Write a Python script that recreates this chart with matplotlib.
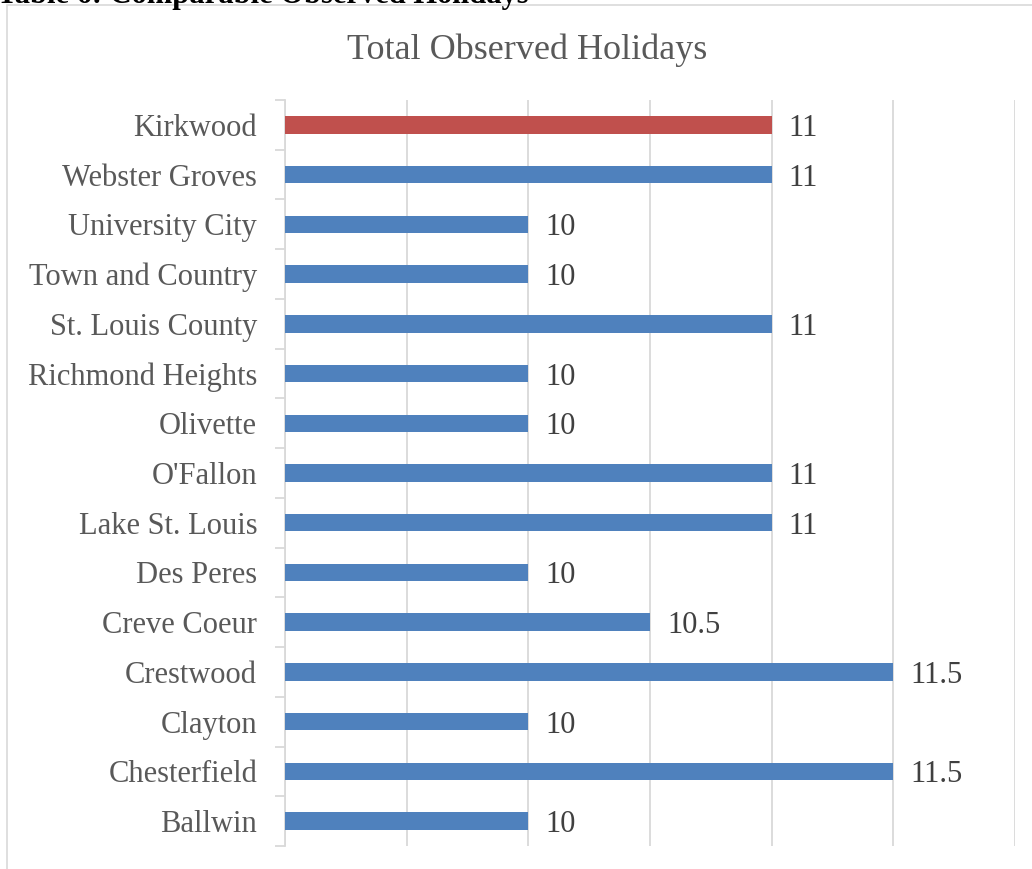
import matplotlib.pyplot as plt
from matplotlib.patches import Rectangle
from matplotlib.ticker import MultipleLocator, FixedLocator

# data, top to bottom as shown
cities = ['Kirkwood', 'Webster Groves', 'University City', 'Town and Country',
          'St. Louis County', 'Richmond Heights', 'Olivette', "O'Fallon",
          'Lake St. Louis', 'Des Peres', 'Creve Coeur', 'Crestwood', 'Clayton',
          'Chesterfield', 'Ballwin']
holidays = [11, 11, 10, 10, 11, 10, 10, 11, 11, 10, 10.5, 11.5, 10, 11.5, 10]
highlight = 'Kirkwood'

plt.rcParams['font.family'] = ['Liberation Serif', 'DejaVu Serif']

W, H = 1032, 869
fig = plt.figure(figsize=(W / 100, H / 100), dpi=100)
ax = fig.add_axes([285 / W, 1 - 846 / H, (1015 - 285) / W, (846 - 100) / H])

# outer chart border
fig.patches.append(Rectangle((7 / W, -0.05), 1.1, 1 - 5 / H + 0.05,
                             transform=fig.transFigure, fill=False,
                             edgecolor='#d9d9d9', lw=1.2))

# caption above the chart, mostly cut off by the page edge
fig.text(-0.003, 1 - 3 / H, 'Table 6: Comparable Observed Holidays', fontsize=22,
         fontweight='bold', color='black', va='baseline', ha='left')

n = len(cities)
ypos = list(range(n))[::-1]
colors = ['#C0504D' if c == highlight else '#4F81BD' for c in cities]
base = 9
ax.barh(ypos, [v - base for v in holidays], left=base, height=0.35,
        color=colors, zorder=3)

for y, v in zip(ypos, holidays):
    ax.text(v + 0.07, y, f'{v:g}', va='center_baseline', ha='left',
            fontsize=22, color='#404040')

ax.set_xlim(9, 12)
ax.set_ylim(-0.5, n - 0.5)
ax.xaxis.set_major_locator(MultipleLocator(0.5))
ax.grid(axis='x', color='#d9d9d9', lw=1.3, zorder=0)
ax.tick_params(axis='x', length=0, labelbottom=False)

ax.set_yticks(ypos)
ax.set_yticklabels(cities, fontsize=22, color='#595959', va='center_baseline')
ax.yaxis.set_minor_locator(FixedLocator([i - 0.5 for i in range(n + 1)]))
ax.tick_params(axis='y', which='major', length=0, pad=20)
ax.tick_params(axis='y', which='minor', length=7, width=1.3, color='#d9d9d9')

for s in ['top', 'right', 'bottom']:
    ax.spines[s].set_visible(False)
ax.spines['left'].set_color('#d9d9d9')
ax.spines['left'].set_linewidth(1.3)

fig.text(527 / W, 1 - 50 / H, 'Total Observed Holidays', fontsize=26,
         color='#595959', ha='center', va='center')

fig.savefig('out.png', dpi=100)
